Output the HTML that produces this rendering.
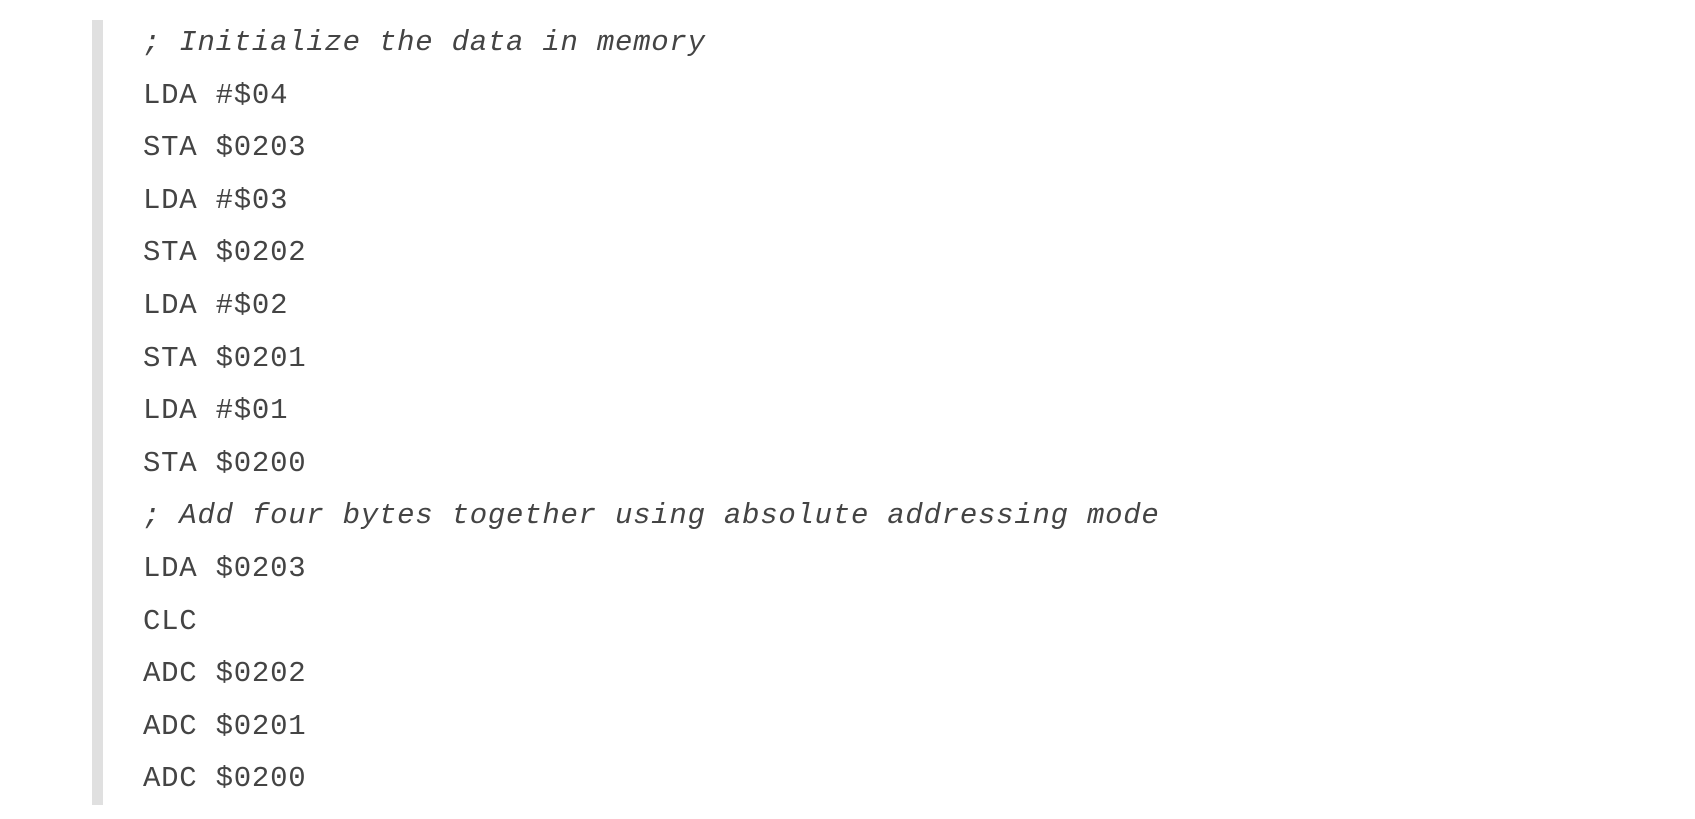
<!DOCTYPE html>
<html><head><meta charset="utf-8"><style>
html,body{margin:0;padding:0;background:#fff;width:1695px;height:819px;overflow:hidden}
.bar{position:absolute;left:92px;top:20px;width:11px;height:785px;background:#e0e0e0}
.l{position:absolute;left:143px;font-family:"Liberation Mono",monospace;font-size:29px;letter-spacing:0.75px;color:#444;white-space:pre;line-height:1}
.c{font-style:italic}
</style></head><body>
<div class="bar"></div>
<div class="l c" style="top:28px">; Initialize the data in memory</div>
<div class="l" style="top:80.6px">LDA #$04</div>
<div class="l" style="top:133.2px">STA $0203</div>
<div class="l" style="top:185.8px">LDA #$03</div>
<div class="l" style="top:238.4px">STA $0202</div>
<div class="l" style="top:291px">LDA #$02</div>
<div class="l" style="top:343.6px">STA $0201</div>
<div class="l" style="top:396.2px">LDA #$01</div>
<div class="l" style="top:448.8px">STA $0200</div>
<div class="l c" style="top:501.4px">; Add four bytes together using absolute addressing mode</div>
<div class="l" style="top:554px">LDA $0203</div>
<div class="l" style="top:606.6px">CLC</div>
<div class="l" style="top:659.2px">ADC $0202</div>
<div class="l" style="top:711.8px">ADC $0201</div>
<div class="l" style="top:764.4px">ADC $0200</div>
</body></html>
